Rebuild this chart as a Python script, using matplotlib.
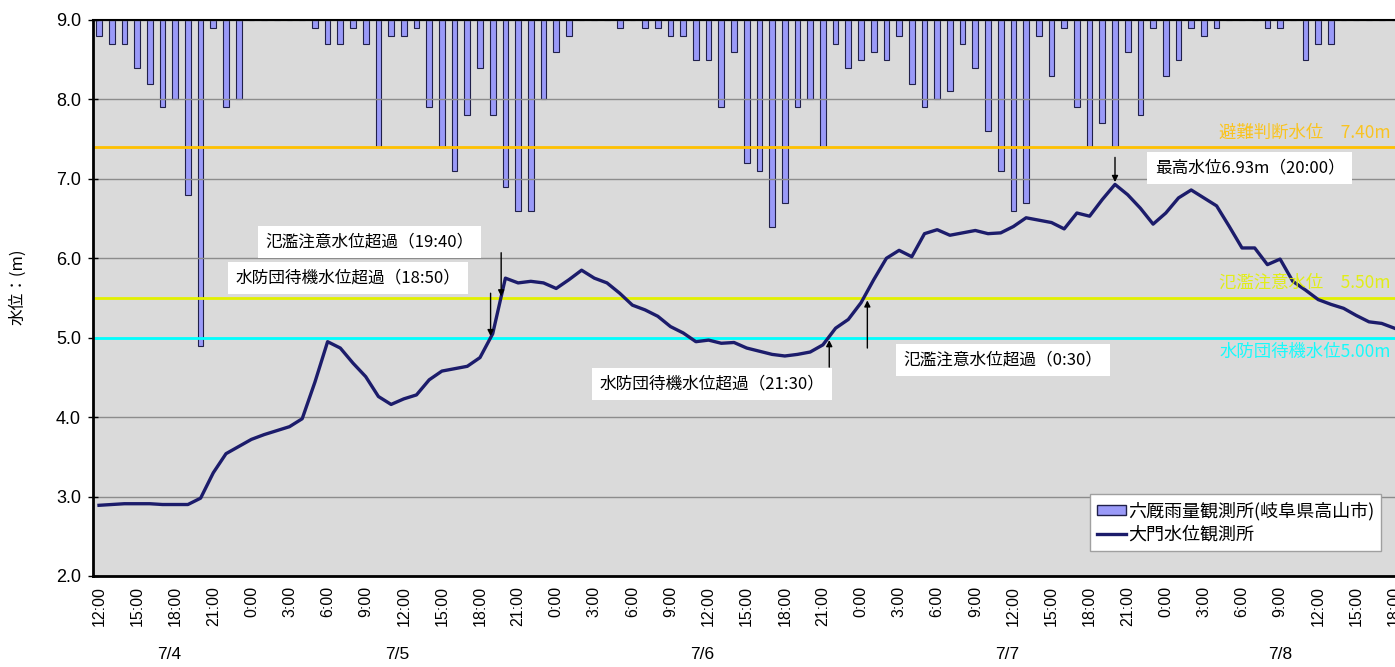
import matplotlib.pyplot as plt
from matplotlib.patches import Patch
from matplotlib.lines import Line2D

plt.rcParams['font.family'] = ['Noto Sans CJK JP', 'DejaVu Sans']
num_font = ['Liberation Sans', 'Noto Sans CJK JP']

# 7/4 12:00 - 7/8 18:00, hourly
days = ['7/4', '7/5', '7/6', '7/7', '7/8']
start_hour = 12

# 六厩 hourly rain (mm)
rain = [2, 3, 3, 6, 8, 11, 10, 22, 41, 1, 11, 10, 0, 0, 0, 0, 0, 1, 3, 3,
        1, 3, 16, 2, 2, 1, 11, 16, 19, 12, 6, 12, 21, 24, 24, 10, 4, 2, 0, 0,
        0, 1, 0, 1, 1, 2, 2, 5, 5, 11, 4, 18, 19, 26, 23, 11, 10, 16, 3, 6,
        5, 4, 5, 2, 8, 11, 10, 9, 3, 6, 14, 19, 24, 23, 2, 7, 1, 11, 16, 13,
        16, 4, 12, 1, 7, 5, 1, 2, 1, 0, 0, 0, 1, 1, 0, 5, 3, 3, 0, 0,
        0, 0, 0]

# 大門 water level (m)
level = [2.89, 2.90, 2.91, 2.91, 2.91, 2.90, 2.90, 2.90, 2.98, 3.30,
         3.54, 3.63, 3.72, 3.78, 3.83, 3.88, 3.98, 4.44, 4.95, 4.87,
         4.68, 4.51, 4.26, 4.16, 4.23, 4.28, 4.47, 4.58, 4.61, 4.64,
         4.75, 5.05, 5.75, 5.69, 5.71, 5.69, 5.62, 5.73, 5.85, 5.75,
         5.69, 5.56, 5.41, 5.35, 5.27, 5.14, 5.06, 4.95, 4.97, 4.93,
         4.94, 4.87, 4.83, 4.79, 4.77, 4.79, 4.82, 4.91, 5.12, 5.23,
         5.44, 5.73, 6.00, 6.10, 6.02, 6.31, 6.36, 6.29, 6.32, 6.35,
         6.31, 6.32, 6.40, 6.51, 6.48, 6.45, 6.37, 6.57, 6.53, 6.74,
         6.93, 6.80, 6.63, 6.43, 6.57, 6.76, 6.86, 6.76, 6.66, 6.40,
         6.13, 6.13, 5.92, 5.99, 5.71, 5.60, 5.48, 5.42, 5.37, 5.28,
         5.20, 5.18, 5.12]

warn_levels = [7.40, 5.50, 5.00]
warn_names = ['避難判断水位　7.40m', '氾濫注意水位　5.50m', '水防団待機水位5.00m']
warn_colors = ['#FFC000', '#E2F000', '#00FFFF']

# (text, day, hh, mm, threshold)
events = [('氾濫注意水位超過（19:40）', 1, 19, 40, 5.50),
          ('水防団待機水位超過（18:50）', 1, 18, 50, 5.00),
          ('水防団待機水位超過（21:30）', 2, 21, 30, 5.00),
          ('氾濫注意水位超過（0:30）', 3, 0, 30, 5.50),
          ('最高水位6.93m（20:00）', 3, 20, 0, 6.93)]
# text positions and arrow tails (layout only)
ev_text_pos = [(21.3, 6.20), (19.6, 5.75), (48.3, 4.42), (71.2, 4.72), (90.6, 7.14)]
ev_tail = [6.07, 5.56, 4.63, 4.87, 7.27]
ev_tip_off = [0.02, 0.02, -0.03, -0.03, 0.03]

x = list(range(len(level)))
hours = [(start_hour + i) % 24 for i in x]
time_labels = ['%d:00' % h for h in hours]
day_of = []
d = 0
for i in x:
    if i > 0 and hours[i] == 0:
        d += 1
    day_of.append(d)

fig = plt.figure(figsize=(13.95, 6.67), dpi=100)
ax = fig.add_axes([92.65 / 1395, 91 / 667, 1308.1 / 1395, 556 / 667])
ax2 = ax.twinx()
ax.set_zorder(ax2.get_zorder() + 1)
ax.patch.set_visible(False)
ax2.patch.set_visible(True)
ax2.set_facecolor('#DADADA')

bar_color = '#9A9AF8'
bar_edge = '#20204a'
line_color = '#1C1C6B'

ax2.bar(x, rain, width=0.45, color=bar_color, edgecolor=bar_edge, linewidth=0.8)
ax2.set_ylim(70, 0)
ax2.set_yticks([])
for s in ax2.spines.values():
    s.set_visible(False)

ax.grid(axis='y', color='#8C8C8C', linewidth=1)
for lv, nm, c in zip(warn_levels, warn_names, warn_colors):
    ax.axhline(lv, color=c, linewidth=2)
ax.text(101.7, 7.58, warn_names[0], color=warn_colors[0], ha='right', va='center',
        fontsize=12.5, alpha=0.85)
ax.text(101.7, 5.69, warn_names[1], color=warn_colors[1], ha='right', va='center',
        fontsize=12.5, alpha=0.9)
ax.text(101.7, 4.82, warn_names[2], color=warn_colors[2], ha='right', va='center',
        fontsize=12.5, alpha=0.9)

ax.plot(x, level, color=line_color, linewidth=2.4)

for (txt, dd, hh, mm, th), (tx, ty), tail, off in zip(events, ev_text_pos, ev_tail, ev_tip_off):
    idx = dd * 24 + hh - start_hour + mm / 60
    ax.text(tx, ty, txt, ha='center', va='center', fontsize=12,
            bbox=dict(boxstyle='square,pad=0.45', facecolor='white', edgecolor='none'))
    ax.annotate('', xy=(idx, th + off), xytext=(idx, tail),
                arrowprops=dict(arrowstyle='-|>', color='black', lw=1, mutation_scale=9,
                                shrinkA=0, shrinkB=0))

ax.set_xlim(-0.5, len(x) - 0.5)
ax.set_ylim(2, 9)
ax.set_yticks(range(2, 10))
ax.set_yticklabels(['%.1f' % v for v in range(2, 10)], fontsize=13, family=num_font)
ax.tick_params(axis='y', direction='inout', length=7, width=1, pad=5)
ax.set_xticks(x[::3])
ax.set_xticklabels(time_labels[::3], rotation=90, fontsize=11.5, family=num_font)
ax.tick_params(axis='x', length=0, pad=7)
ax.set_ylabel('水位：(m)', fontsize=12)
ax.yaxis.set_label_coords(-0.051, 0.52)

for k, dname in enumerate(days):
    idxs = [i for i in x if day_of[i] == k]
    ax.text(sum(idxs) / len(idxs), -0.142, dname, transform=ax.get_xaxis_transform(),
            ha='center', va='center', fontsize=12.5, family=num_font)

ax.spines['left'].set_linewidth(2)
ax.spines['bottom'].set_linewidth(2)
ax.spines['top'].set_linewidth(1.5)
ax.spines['right'].set_visible(False)

handles = [Patch(facecolor=bar_color, edgecolor=bar_edge),
           Line2D([0], [0], color=line_color, linewidth=2.4)]
leg = ax.legend(handles, ['六厩雨量観測所(岐阜県高山市)', '大門水位観測所'],
                loc='lower right', bbox_to_anchor=(0.992, 0.029), fontsize=13,
                fancybox=False, framealpha=1, edgecolor='#A0A0A0',
                handlelength=1.6, handleheight=0.5, handletextpad=0.1,
                borderpad=0.4, labelspacing=0.3)
leg.get_frame().set_linewidth(1)

fig.savefig('out.png', dpi=100)
